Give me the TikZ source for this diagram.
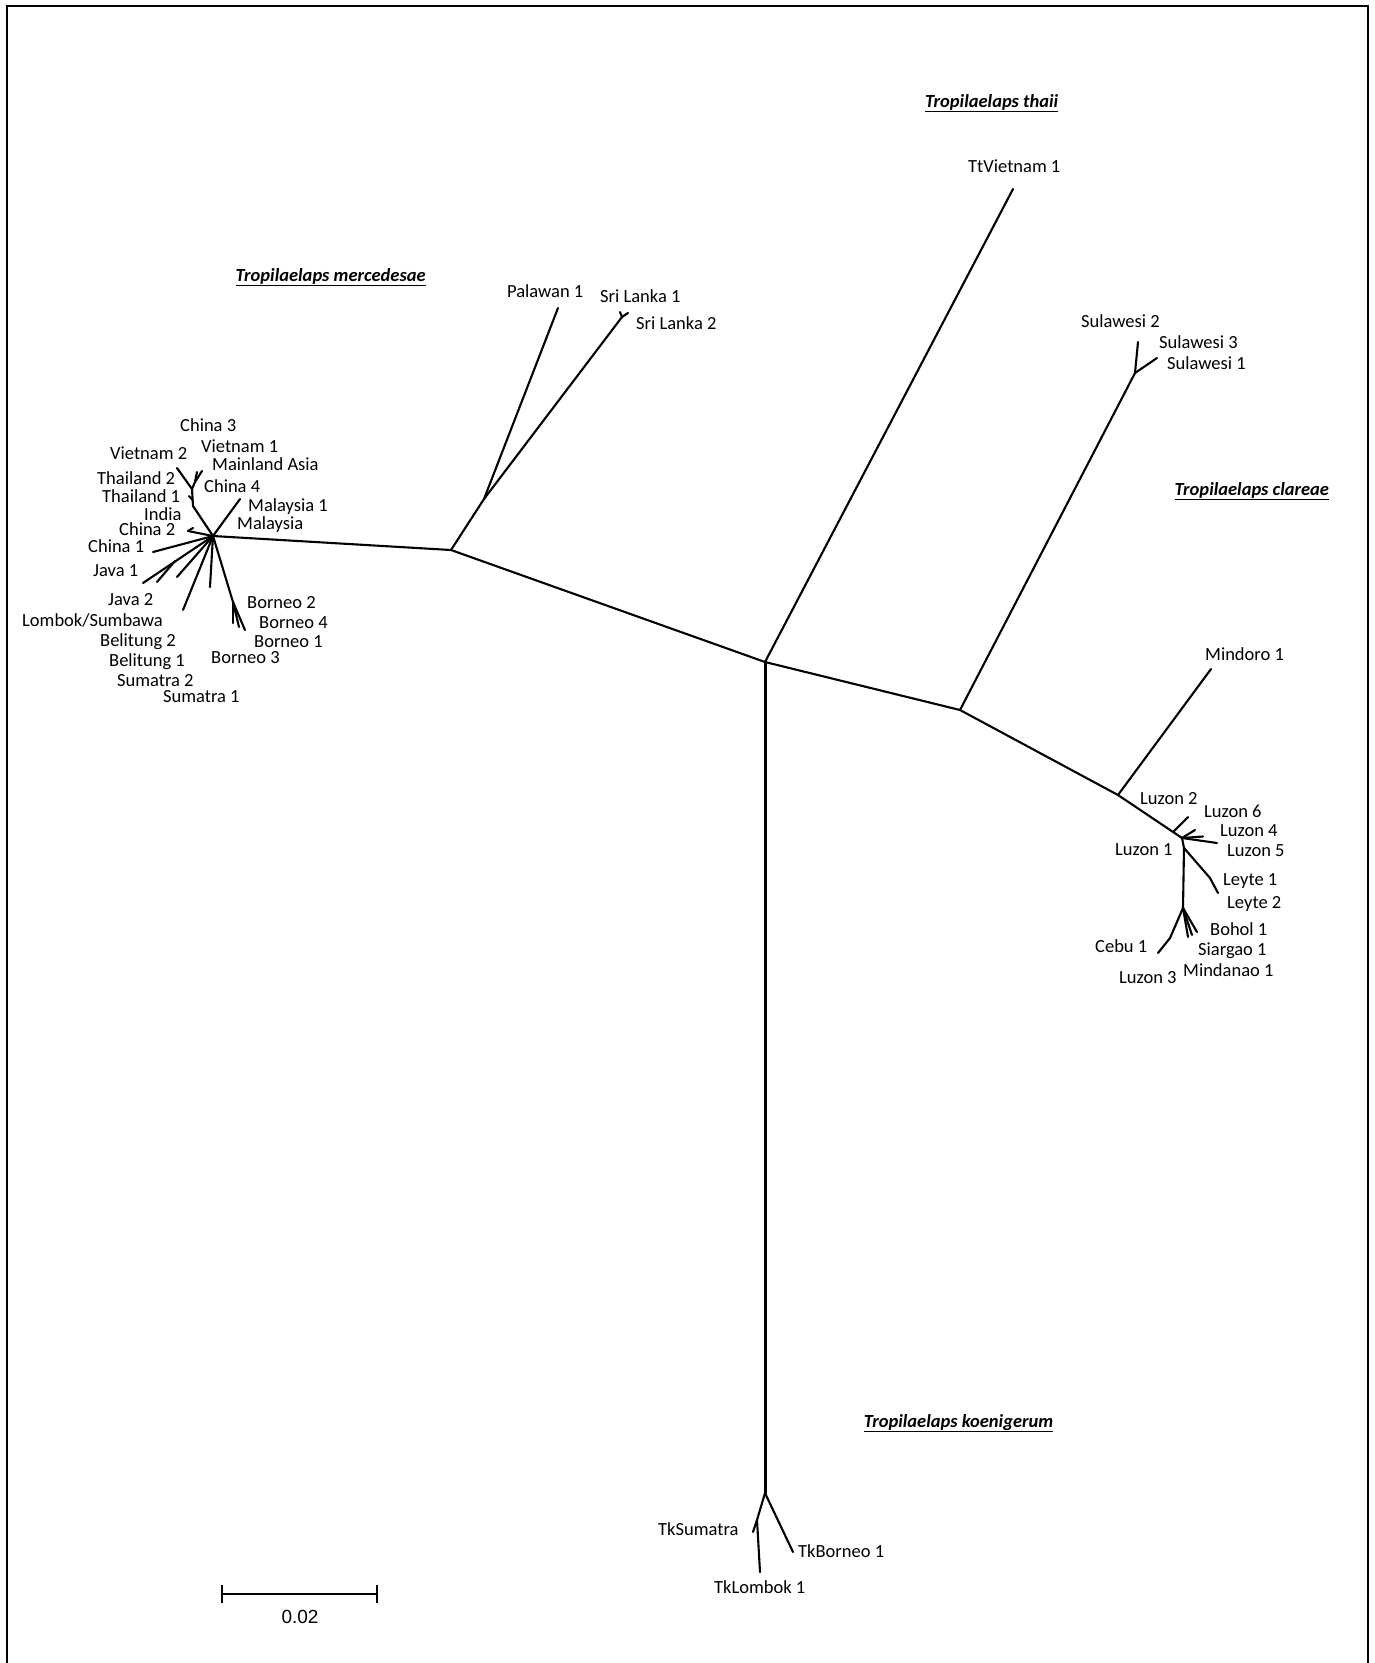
\documentclass[tikz,border=0pt]{standalone}
\usepackage{fontspec}
\setmainfont{Carlito}
\newfontfamily\arialf{Liberation Sans}
\begin{document}
\begin{tikzpicture}[x=1pt,y=-1pt,
  br/.style={line width=2.1pt, line cap=round, line join=round},
  trunk/.style={line width=3.0pt, line cap=round},
  lab/.style={anchor=base west, inner sep=0pt, font=\fontsize{18.5}{20}\selectfont},
  ttl/.style={anchor=base west, inner sep=0pt, font=\fontsize{18.5}{20}\selectfont\bfseries\itshape}]
\useasboundingbox (0,0) rectangle (1375,1663);
\fill[white] (0,0) rectangle (1375,1663);
% frame
\draw[line width=2pt] (6.5,1663) -- (6.5,5.5) -- (1368,5.5) -- (1368,1663);

% ---------- internal coordinates ----------
\coordinate (C) at (765,662);
\coordinate (TtV) at (1013,189);
\coordinate (M) at (451,550);
\coordinate (PS) at (484,499);
\coordinate (Pal) at (558,308);
\coordinate (SL) at (622,317);
\coordinate (SL1) at (620,312);
\coordinate (SL2) at (628,313);
\coordinate (MC) at (213,536);
\coordinate (A1) at (193,506);
\coordinate (AT) at (192.7,500);
\coordinate (Th1) at (189,496);
\coordinate (A2) at (192,489);
\coordinate (Vn2) at (177,468);
\coordinate (A3) at (195,482);
\coordinate (Ch3) at (197,472);
\coordinate (Vn1) at (202,471);
\coordinate (Mal) at (240,499);
\coordinate (Ch2) at (188,531);
\coordinate (Ch2t) at (193,528);
\coordinate (Ch1) at (153,552);
\coordinate (Jv1) at (143,583);
\coordinate (JvN) at (175,561);
\coordinate (Jv1b) at (157,582);
\coordinate (Jv2) at (177,577);
\coordinate (Lom) at (183,610);
\coordinate (Bel) at (210,587);
\coordinate (BoN) at (233,602);
\coordinate (Bo1) at (233,623);
\coordinate (Bo2) at (239,627);
\coordinate (Bo3) at (245,630);
\coordinate (K) at (765,1493);
\coordinate (KL) at (757,1520);
\coordinate (TkS) at (753,1532);
\coordinate (TkL) at (760,1572);
\coordinate (TkB) at (793,1552);
\coordinate (CL) at (960,710);
\coordinate (SN) at (1135,373);
\coordinate (Su2) at (1138,342);
\coordinate (Su1) at (1157,358);
\coordinate (LN) at (1118,795);
\coordinate (Min) at (1211,669);
\coordinate (L2N) at (1173,832);
\coordinate (Lz2) at (1188,817);
\coordinate (LZ) at (1182,838);
\coordinate (Lz6) at (1195,830);
\coordinate (Lz4) at (1203,836.5);
\coordinate (Lz5) at (1217,843);
\coordinate (LB) at (1184,848);
\coordinate (LyN) at (1210,878);
\coordinate (Ly2) at (1218,893);
\coordinate (BN) at (1183,908);
\coordinate (CbN) at (1170,938);
\coordinate (Cb) at (1158,953);
\coordinate (Bh) at (1197,932);
\coordinate (Sg) at (1188,937);
\coordinate (Md) at (1192,935);

% ---------- branches ----------
\draw[trunk] (C) -- (K);
\draw[br] (C) -- (TtV);
\draw[br] (C) -- (M);
\draw[br] (M) -- (PS);
\draw[br] (PS) -- (Pal);
\draw[br] (PS) -- (SL);
\draw[br] (SL) -- (SL1);
\draw[br] (SL) -- (SL2);
\draw[br] (M) -- (MC);
\draw[br] (MC) -- (A1);
\draw[br] (A1) -- (A2);
\draw[br] (AT) -- (Th1);
\draw[br] (A2) -- (Vn2);
\draw[br] (A2) -- (A3);
\draw[br] (A3) -- (Ch3);
\draw[br] (A3) -- (Vn1);
\draw[br] (MC) -- (Mal);
\draw[br] (MC) -- (Ch2);
\draw[br] (Ch2) -- (Ch2t);
\draw[br] (MC) -- (Ch1);
\draw[br] (MC) -- (Jv1);
\draw[br] (JvN) -- (Jv1b);
\draw[br] (MC) -- (Jv2);
\draw[br] (MC) -- (Lom);
\draw[br] (MC) -- (Bel);
\draw[br] (MC) -- (BoN);
\draw[br] (BoN) -- (Bo1);
\draw[br] (BoN) -- (Bo2);
\draw[br] (BoN) -- (Bo3);
\draw[br] (K) -- (KL);
\draw[br] (KL) -- (TkS);
\draw[br] (KL) -- (TkL);
\draw[br] (K) -- (TkB);
\draw[br] (C) -- (CL);
\draw[br] (CL) -- (SN);
\draw[br] (SN) -- (Su2);
\draw[br] (SN) -- (Su1);
\draw[br] (CL) -- (LN);
\draw[br] (LN) -- (Min);
\draw[br] (LN) -- (LZ);
\draw[br] (L2N) -- (Lz2);
\draw[br] (LZ) -- (Lz6);
\draw[br] (LZ) -- (Lz4);
\draw[br] (LZ) -- (Lz5);
\draw[br] (LZ) -- (LB);
\draw[br] (LB) -- (LyN);
\draw[br] (LyN) -- (Ly2);
\draw[br] (LB) -- (BN);
\draw[br] (BN) -- (CbN);
\draw[br] (CbN) -- (Cb);
\draw[br] (BN) -- (Bh);
\draw[br] (BN) -- (Sg);
\draw[br] (BN) -- (Md);

% ---------- titles ----------
\node[ttl] (tm) at (235.5,281) {\underline{Tropilaelaps mercedesae}};
\node[ttl] (tt) at (925,107) {\underline{Tropilaelaps thaii}};
\node[ttl] (tc) at (1174.5,495) {\underline{Tropilaelaps clareae}};
\node[ttl] (tk) at (863.6,1427) {\underline{Tropilaelaps koenigerum}};

% ---------- labels ----------
\node[lab] (lChina3) at (180,431) {China 3};
\node[lab] (lVietnam1) at (201,452) {Vietnam 1};
\node[lab] (lVietnam2) at (110,459) {Vietnam 2};
\node[lab] (lMainland) at (212,470) {Mainland Asia};
\node[lab] (lThailand2) at (97,484) {Thailand 2};
\node[lab] (lChina4) at (204,492) {China 4};
\node[lab] (lThailand1) at (102,502) {Thailand 1};
\node[lab] (lMalaysia1) at (248,511) {Malaysia 1};
\node[lab] (lIndia) at (144,520) {India};
\node[lab] (lMalaysia) at (237,529) {Malaysia};
\node[lab] (lChina2) at (119,535) {China 2};
\node[lab] (lChina1) at (88,552) {China 1};
\node[lab] (lJava1) at (93,576) {Java 1};
\node[lab] (lJava2) at (108,605) {Java 2};
\node[lab] (lBorneo2) at (247,608) {Borneo 2};
\node[lab] (lLombok) at (22,626) {Lombok/Sumbawa};
\node[lab] (lBorneo4) at (259,628) {Borneo 4};
\node[lab] (lBelitung2) at (100,646) {Belitung 2};
\node[lab] (lBorneo1) at (254,647) {Borneo 1};
\node[lab] (lBelitung1) at (109,666) {Belitung 1};
\node[lab] (lBorneo3) at (211,663) {Borneo 3};
\node[lab] (lSumatra2) at (117,686) {Sumatra 2};
\node[lab] (lSumatra1) at (163,702) {Sumatra 1};

\node[lab] (lPalawan) at (507,297) {Palawan 1};
\node[lab] (lSriLanka1) at (600,302) {Sri Lanka 1};
\node[lab] (lSriLanka2) at (636,329) {Sri Lanka 2};
\node[lab] (lTtV) at (968,172) {TtVietnam 1};
\node[lab] (lSul2) at (1081,327) {Sulawesi 2};
\node[lab] (lSul3) at (1159,348) {Sulawesi 3};
\node[lab] (lSul1) at (1167,369) {Sulawesi 1};
\node[lab] (lMindoro) at (1205,660) {Mindoro 1};
\node[lab] (lLuzon2) at (1140,804) {Luzon 2};
\node[lab] (lLuzon6) at (1204,817) {Luzon 6};
\node[lab] (lLuzon4) at (1220,836) {Luzon 4};
\node[lab] (lLuzon5) at (1227,856) {Luzon 5};
\node[lab] (lLuzon1) at (1115,855) {Luzon 1};
\node[lab] (lLeyte1) at (1223,885) {Leyte 1};
\node[lab] (lLeyte2) at (1227,908) {Leyte 2};
\node[lab] (lBohol) at (1210,935) {Bohol 1};
\node[lab] (lSiargao) at (1198,955) {Siargao 1};
\node[lab] (lMindanao) at (1183,976) {Mindanao 1};
\node[lab] (lCebu) at (1095,952) {Cebu 1};
\node[lab] (lLuzon3) at (1119,983) {Luzon 3};
\node[lab] (lTkS) at (658,1535) {TkSumatra};
\node[lab] (lTkB) at (798,1557) {TkBorneo 1};
\node[lab] (lTkL) at (714,1593) {TkLombok 1};

% ---------- scale bar ----------
\coordinate (sb1) at (222,1594);
\coordinate (sb2) at (377,1594);
\draw[line width=2.8pt] (sb1) -- (sb2);
\draw[line width=2.2pt] ([yshift=-9pt]sb1) -- ([yshift=9pt]sb1);
\draw[line width=2.2pt] ([yshift=-9pt]sb2) -- ([yshift=9pt]sb2);
\node[inner sep=0pt, font=\arialf\fontsize{19}{21}\selectfont] (sbl) at (300,1617) {0.02};
\end{tikzpicture}
\end{document}
